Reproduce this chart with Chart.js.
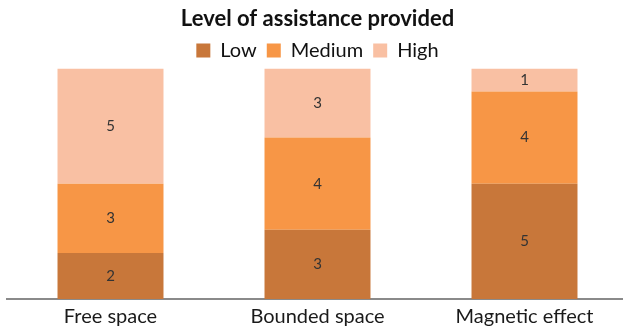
<!DOCTYPE html>
<html lang="en">
<head>
  <meta charset="UTF-8" />
  <title>Level of assistance provided</title>
  <script src="https://cdn.jsdelivr.net/npm/chart.js"></script>
  <style>
    html, body { margin: 0; padding: 0; background: #fff; overflow: hidden; }
    #wrap { width: 630px; height: 330px; }
  </style>
</head>
<body>
  <div id="wrap"><canvas id="assistChart"></canvas></div>

  <script>
    const categories = ["Free space", "Bounded space", "Magnetic effect"];
    const lowValues = [2, 3, 5];
    const mediumValues = [3, 4, 4];
    const highValues = [5, 3, 1];

    // writes the value in the middle of each stacked segment
    const segmentLabels = {
      id: "segmentLabels",
      afterDatasetsDraw(chart) {
        const ctx = chart.ctx;
        ctx.save();
        ctx.font = "15px Lato";
        ctx.fillStyle = "#333";
        ctx.textAlign = "center";
        ctx.textBaseline = "middle";
        chart.data.datasets.forEach((ds, i) => {
          chart.getDatasetMeta(i).data.forEach((bar, j) => {
            const mid = (bar.y + bar.base) / 2;
            ctx.fillText(ds.data[j], bar.x, mid);
          });
        });
        ctx.restore();
      }
    };

    // trim the space under the legend a little
    const legendGap = {
      id: "legendGap",
      beforeInit(chart) {
        const fit = chart.legend.fit;
        chart.legend.fit = function () {
          fit.bind(chart.legend)();
          this.height -= 2;
        };
      }
    };

    new Chart(document.getElementById("assistChart"), {
      type: "bar",
      data: {
        labels: categories,
        datasets: [
          { label: "Low", data: lowValues, backgroundColor: "#c8773a" },
          { label: "Medium", data: mediumValues, backgroundColor: "#f79646" },
          { label: "High", data: highValues, backgroundColor: "#f9c0a3" }
        ]
      },
      options: {
        responsive: true,
        maintainAspectRatio: false,
        animation: false,
        layout: { padding: { left: 7, right: 2, top: 4, bottom: 3 } },
        datasets: {
          bar: { categoryPercentage: 1, barPercentage: 0.512 }
        },
        plugins: {
          title: {
            display: true,
            text: "Level of assistance provided",
            color: "#111",
            font: { family: "Lato", size: 22, weight: "bold" },
            padding: { top: 2, bottom: -2 }
          },
          legend: {
            labels: {
              color: "#111",
              font: { family: "Lato", size: 20 },
              boxWidth: 14,
              boxHeight: 14,
              padding: 10
            }
          },
          tooltip: { enabled: false }
        },
        scales: {
          x: {
            stacked: true,
            grid: { display: false },
            border: { display: true, color: "#8a8a8a", width: 2 },
            ticks: { color: "#1a1a1a", font: { family: "Lato", size: 20 }, padding: -2 }
          },
          y: {
            stacked: true,
            display: false,
            min: 0,
            max: 10
          }
        }
      },
      plugins: [segmentLabels, legendGap]
    });
  </script>
</body>
</html>
